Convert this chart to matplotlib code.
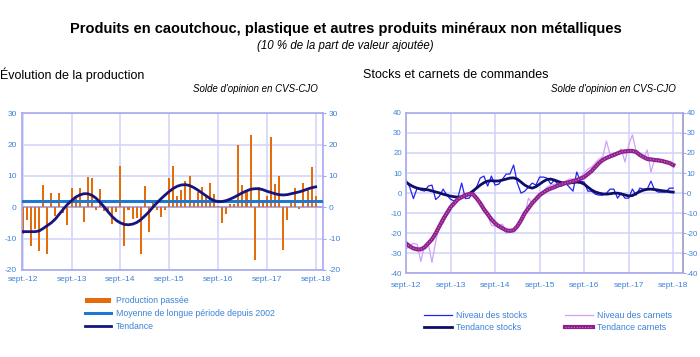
import matplotlib
matplotlib.use('Agg')
import matplotlib.pyplot as plt
import numpy as np

plt.rcParams['font.family'] = ['Liberation Sans', 'DejaVu Sans']
plt.rcParams['axes.unicode_minus'] = False

# months since sept. 2012
months = list(range(73))
tick_pos = [0, 12, 24, 36, 48, 60, 72]
tick_labels = ['sept.-12', 'sept.-13', 'sept.-14', 'sept.-15', 'sept.-16', 'sept.-17', 'sept.-18']

production = [-8.4, -4.1, -12.5, -6.8, -14, 7, -14.8, 4.5, -2.8, 4.5, -1.7, -5.7,
              6.2, 3, 6, -4.6, 9.5, 9.2, -0.8, 5.8, -1.3, -1.5, -5.3, -1.5,
              13, -12.5, -1, -3.8, -3.5, -14.8, 6.7, -8, 1.8, -1, -3, -0.8,
              9.3, 13, 3.5, 5.5, 8.5, 10, 2, 4.8, 6.5, 3.5, 7.7, 4.3,
              0.3, -5, -2.3, 1, 1, 19.8, 7, 5, 23, -17, 6.5, 1.5,
              3.5, 22.3, 7.5, 10, -13.7, -4, 1.5, 6, -0.7, 7.7, 6, 12.8,
              3.5]
moyenne = 2.0
tendance_prod = [-7.8, -7.8, -7.8, -7.8, -7.6, -6.8, -5.9, -5.0, -3.8, -2.2, -0.6, 0.9,
                 2.1, 3.2, 3.9, 4.3, 4.3, 3.8, 2.9, 1.6, 0.1, -1.5, -3.0, -4.2,
                 -5.0, -5.5, -5.6, -5.4, -4.9, -4.0, -2.8, -1.5, 0.0, 1.4, 2.7, 3.9,
                 5.0, 6.0, 6.7, 7.1, 7.2, 6.9, 6.3, 5.5, 4.6, 3.7, 2.8, 2.1,
                 1.8, 1.8, 2.1, 2.6, 3.2, 3.9, 4.6, 5.2, 5.7, 5.9, 5.9, 5.6,
                 5.1, 4.7, 4.3, 4.0, 3.9, 4.0, 4.3, 4.6, 4.9, 5.3, 5.8, 6.2,
                 6.5]

stocks = [6.5, 3, -2.7, 2.5, 1.5, 1, 3.5, 4, -3.2, -1.5, 2, -1,
          -3, -4, -2, 5, -2.7, -2.5, 0, 3, 7.5, 8.5, 3.5, 8.5,
          4, 4.5, 7, 9.5, 9.5, 14, 5, 0, 1, 3, 5, 4,
          8, 8, 7.5, 4.5, 6.5, 4, 3.5, 5, 3, 1, 10.5, 6,
          5.5, 1, 1, -0.5, -1, -1, 0, 2, 2, -2.5, 0, -2.5,
          -2.5, 2, -1, 2.5, 2, 2, 6, 1.5, 0.5, 0.5, 0.5, 2.5,
          2.5]
tendance_stocks = [5.5, 4.2, 3.2, 2.5, 2.1, 1.9, 1.6, 1.1, 0.6, 0.1, -0.5, -1.0,
                   -1.5, -1.8, -2.0, -1.9, -1.5, -0.3, 1.0, 2.5, 4.0, 5.2, 6.0, 6.2,
                   6.0, 6.1, 6.5, 7.0, 7.5, 7.6, 7.0, 5.5, 4.0, 3.0, 2.5, 3.2,
                   4.5, 5.8, 6.8, 7.0, 6.5, 5.8, 5.2, 5.0, 5.0, 5.3, 5.5, 5.3,
                   4.5, 3.0, 1.6, 0.6, 0.0, -0.4, -0.5, -0.3, 0.0, 0.0, -0.4, -0.9,
                   -1.4, -1.2, -0.2, 0.8, 1.5, 1.9, 2.0, 1.8, 1.5, 1.2, 1.0, 0.7,
                   0.5]
carnets = [-28, -26, -25, -25.5, -34, -26, -25, -34.5, -24, -16, -15, -11,
           -8, -5, -3, -2, -1, -0.5, -0.5, -2, -6, -9, -11, -16,
           -16.5, -16, -15.5, -20, -19, -19, -17, -13, -11, -2.5, -5, -3,
           -1, 1, 3, 4, 4.5, 4, 5, 6, 7, 7, 6.5, 8,
           10, 12, 13, 15, 17, 18, 26, 19, 20, 20, 22, 15.5,
           24, 29, 21, 20, 17, 21.5, 10.5, 17, 17, 16, 15.5, 14.5,
           13.5]
tendance_carnets = [-25, -26.5, -27.5, -28, -28, -27, -25, -23, -20, -16.5, -13, -10,
                    -7, -5, -3, -2, -1, -0.5, -0.5, -2.5, -5, -8, -10.5, -13,
                    -15, -16.5, -17.5, -18.5, -18.8, -18.5, -16.5, -13.5, -10, -7.5, -5, -3,
                    -1, 0.3, 1.5, 2.3, 3, 3.8, 4.5, 5, 5.5, 6, 6.5, 7.2,
                    8, 9.5, 11, 13, 15, 16.5, 17.5, 18.3, 19, 19.8, 20.5, 20.8,
                    21, 21, 20.5, 19, 18, 17, 16.8, 16.5, 16.3, 16, 15.5, 15,
                    14]

blue_txt = '#3C82D8'
grid_c = '#D4D4FA'
spine_c = '#A8A8EE'

fig = plt.figure(figsize=(7, 3.57), dpi=100)

fig.text(0.494, 0.918, 'Produits en caoutchouc, plastique et autres produits minéraux non métalliques',
         ha='center', va='center', fontsize=10.5, fontweight='bold')
fig.text(0.494, 0.871, '(10 % de la part de valeur ajoutée)', ha='center', va='center',
         fontsize=8.3, style='italic')
fig.text(0.0, 0.79, 'Évolution de la production', ha='left', va='center', fontsize=9)
fig.text(0.454, 0.75, "Solde d'opinion en CVS-CJO", ha='right', va='center', fontsize=7, style='italic')
fig.text(0.519, 0.79, 'Stocks et carnets de commandes', ha='left', va='center', fontsize=9)
fig.text(0.966, 0.75, "Solde d'opinion en CVS-CJO", ha='right', va='center', fontsize=7, style='italic')


def style_axes(ax, ylo, yhi):
    ax.set_ylim(ylo, yhi)
    ax.set_yticks(range(ylo, yhi + 1, 10))
    ax.set_xticks(tick_pos)
    ax.set_xticklabels(tick_labels)
    ax.grid(True, color=grid_c, linewidth=1.2)
    ax.set_axisbelow(True)
    for s in ax.spines.values():
        s.set_color(spine_c)
        s.set_linewidth(1.2)
    ax.tick_params(axis='both', labelsize=6, colors=blue_txt, length=0, pad=3)
    ax.tick_params(axis='y', labelright=True, right=True, length=2, color=spine_c, pad=1.5)
    ax.tick_params(axis='y', left=False)


# left chart
ax1 = fig.add_axes([0.031, 0.244, 0.431, 0.439])
b1 = ax1.bar(months, production, width=0.5, color='#E46C0A', label='Production passée', zorder=2)
ax1.axhline(0, color='#A0A0EE', linewidth=1.2, zorder=1)
m1, = ax1.plot([-0.25, 73.9], [moyenne, moyenne], color='#1E78D2', linewidth=2.2,
               label='Moyenne de longue période depuis 2002', zorder=3)
t1, = ax1.plot(months, tendance_prod, color='#15157F', linewidth=2, label='Tendance', zorder=4)
ax1.set_xlim(-0.25, 73.9)
style_axes(ax1, -20, 30)
ax1.tick_params(axis='x', pad=4.5)
ax1.legend(handles=[b1, m1, t1], loc='upper left', bbox_to_anchor=(0.122, 0.17),
           bbox_transform=fig.transFigure,
           frameon=False, fontsize=6.3, labelcolor=blue_txt, handlelength=2.9, handleheight=0.5,
           handletextpad=0.6, labelspacing=0.45, borderaxespad=0, borderpad=0)

# right chart
ax2 = fig.add_axes([0.58, 0.234, 0.395, 0.45])
l1, = ax2.plot(months, stocks, color='#2222F5', linewidth=0.9, label='Niveau des stocks')
l2, = ax2.plot(months, carnets, color='#CFA0FA', linewidth=0.9, label='Niveau des carnets')
l3, = ax2.plot(months, tendance_stocks, color='#0E0E66', linewidth=2, label='Tendance stocks')
l4, = ax2.plot(months, tendance_carnets, color='#8E1F8C', linewidth=3, label='Tendance carnets')
d4, = ax2.plot(months, tendance_carnets, color='#C47AC2', linewidth=0.8, linestyle=(0, (1, 1.5)))
ax2.set_xlim(0, 74.5)
style_axes(ax2, -40, 40)
ax2.spines['right'].set_color('#9A9AC8')
ax2.tick_params(axis='x', pad=6)
ax2.tick_params(axis='y', labelsize=5.7, pad=1)
ax2.legend(handles=[l1, l3, l2, (l4, d4)],
           labels=['Niveau des stocks', 'Tendance stocks', 'Niveau des carnets', 'Tendance carnets'],
           ncol=2, loc='upper left',
           bbox_to_anchor=(0.605, 0.13), bbox_transform=fig.transFigure,
           frameon=False, fontsize=6.3, labelcolor=blue_txt, handlelength=3.2,
           handletextpad=0.5, labelspacing=0.4, columnspacing=4.3,
           borderaxespad=0, borderpad=0)

fig.savefig('out.png', dpi=100)
